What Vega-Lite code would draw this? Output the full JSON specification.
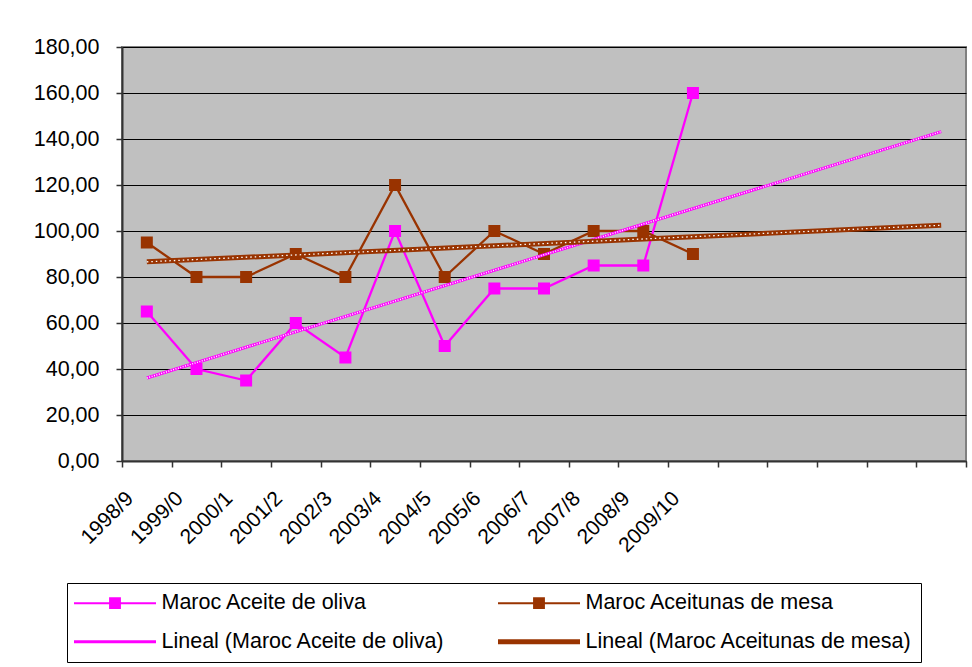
{
  "$schema": "https://vega.github.io/schema/vega-lite/v6.json",
  "width": 844,
  "height": 414,
  "autosize": "none",
  "padding": {"left": 122, "top": 47, "right": 6, "bottom": 206},
  "background": "white",
  "config": {
    "font": "Liberation Sans",
    "view": {"fill": "#C0C0C0", "stroke": "#808080", "strokeWidth": 2},
    "axis": {"labelFont": "Liberation Sans", "labelFontSize": 21.5, "labelColor": "#000"}
  },
  "datasets": {
    "obs": [
      {"period": "1998/9", "idx": 1, "series": "Maroc Aceite de oliva", "value": 65},
      {"period": "1999/0", "idx": 2, "series": "Maroc Aceite de oliva", "value": 40},
      {"period": "2000/1", "idx": 3, "series": "Maroc Aceite de oliva", "value": 35},
      {"period": "2001/2", "idx": 4, "series": "Maroc Aceite de oliva", "value": 60},
      {"period": "2002/3", "idx": 5, "series": "Maroc Aceite de oliva", "value": 45},
      {"period": "2003/4", "idx": 6, "series": "Maroc Aceite de oliva", "value": 100},
      {"period": "2004/5", "idx": 7, "series": "Maroc Aceite de oliva", "value": 50},
      {"period": "2005/6", "idx": 8, "series": "Maroc Aceite de oliva", "value": 75},
      {"period": "2006/7", "idx": 9, "series": "Maroc Aceite de oliva", "value": 75},
      {"period": "2007/8", "idx": 10, "series": "Maroc Aceite de oliva", "value": 85},
      {"period": "2008/9", "idx": 11, "series": "Maroc Aceite de oliva", "value": 85},
      {"period": "2009/10", "idx": 12, "series": "Maroc Aceite de oliva", "value": 160},
      {"period": "1998/9", "idx": 1, "series": "Maroc Aceitunas de mesa", "value": 95},
      {"period": "1999/0", "idx": 2, "series": "Maroc Aceitunas de mesa", "value": 80},
      {"period": "2000/1", "idx": 3, "series": "Maroc Aceitunas de mesa", "value": 80},
      {"period": "2001/2", "idx": 4, "series": "Maroc Aceitunas de mesa", "value": 90},
      {"period": "2002/3", "idx": 5, "series": "Maroc Aceitunas de mesa", "value": 80},
      {"period": "2003/4", "idx": 6, "series": "Maroc Aceitunas de mesa", "value": 120},
      {"period": "2004/5", "idx": 7, "series": "Maroc Aceitunas de mesa", "value": 80},
      {"period": "2005/6", "idx": 8, "series": "Maroc Aceitunas de mesa", "value": 100},
      {"period": "2006/7", "idx": 9, "series": "Maroc Aceitunas de mesa", "value": 90},
      {"period": "2007/8", "idx": 10, "series": "Maroc Aceitunas de mesa", "value": 100},
      {"period": "2008/9", "idx": 11, "series": "Maroc Aceitunas de mesa", "value": 100},
      {"period": "2009/10", "idx": 12, "series": "Maroc Aceitunas de mesa", "value": 90}
    ],
    "trend": [
      {"idx": 1, "series": "Lineal (Maroc Aceite de oliva)", "value": 36.1},
      {"idx": 17, "series": "Lineal (Maroc Aceite de oliva)", "value": 143.2},
      {"idx": 1, "series": "Lineal (Maroc Aceitunas de mesa)", "value": 86.6},
      {"idx": 17, "series": "Lineal (Maroc Aceitunas de mesa)", "value": 102.5}
    ]
  },
  "encoding": {
    "x": {
      "field": "idx", "type": "quantitative",
      "scale": {"domain": [0.5, 17.5], "nice": false, "zero": false},
      "axis": {
        "title": null, "grid": false,
        "values": [0.5,1,1.5,2,2.5,3,3.5,4,4.5,5,5.5,6,6.5,7,7.5,8,8.5,9,9.5,10,10.5,11,11.5,12,12.5,13,13.5,14,14.5,15,15.5,16,16.5,17,17.5],
        "labelExpr": "datum.value % 1 == 0 && datum.value <= 12 ? ['1998/9','1999/0','2000/1','2001/2','2002/3','2003/4','2004/5','2005/6','2006/7','2007/8','2008/9','2009/10'][datum.value - 1] : ''",
        "labelAngle": -45, "labelAlign": "right", "labelBaseline": "middle", "labelFontSize": 21,
        "labelPadding": 28, "labelOffset": -17, "labelOverlap": false, "labelBound": false, "labelFlush": false,
        "tickSize": 6, "tickColor": "#333", "tickWidth": 1.5,
        "tickOpacity": {"condition": {"test": "datum.value % 1 == 0", "value": 0}, "value": 1},
        "domainColor": "#333", "domainWidth": 2
      }
    },
    "y": {
      "field": "value", "type": "quantitative",
      "scale": {"domain": [0, 180], "nice": false},
      "axis": {
        "title": null, "values": [0,20,40,60,80,100,120,140,160,180],
        "labelExpr": "replace(format(datum.value, '.2f'), '.', ',')",
        "gridColor": "#000", "gridWidth": 1.2,
        "tickSize": 6, "tickColor": "#333", "tickWidth": 1.5,
        "labelPadding": 17,
        "domainColor": "#333", "domainWidth": 2
      }
    },
    "color": {
      "field": "series", "type": "nominal",
      "scale": {
        "domain": ["Maroc Aceite de oliva", "Lineal (Maroc Aceite de oliva)", "Maroc Aceitunas de mesa", "Lineal (Maroc Aceitunas de mesa)"],
        "range": ["#FF00FF", "#FF00FF", "#993300", "#993300"]
      },
      "legend": null
    }
  },
  "layer": [
    {
      "data": {"name": "obs"},
      "mark": {"type": "line", "strokeWidth": 2.3},
      "encoding": {
        "color": {
          "field": "series", "type": "nominal",
          "legend": {
            "title": null, "orient": "none", "legendX": -55, "legendY": 536,
            "columns": 2, "columnPadding": 43, "rowPadding": 16, "padding": 9,
            "strokeColor": "#000", "fillColor": "#fff",
            "labelFont": "Liberation Sans", "labelFontSize": 21.5, "labelColor": "#000", "labelLimit": 0, "labelOffset": 64,
            "symbolSize": 6724,
            "encode": {
              "symbols": {
                "update": {
                  "x": {"value": 39},
                  "shape": {"signal": "indexof(['Maroc Aceite de oliva','Maroc Aceitunas de mesa'], datum.value) >= 0 ? 'M-1,0H1M-0.12,-0.12H0.12V0.12H-0.12Z' : 'M-1,0H1'"},
                  "fill": {"signal": "datum.value == 'Maroc Aceite de oliva' ? '#FF00FF' : datum.value == 'Maroc Aceitunas de mesa' ? '#993300' : 'transparent'"},
                  "stroke": {"signal": "datum.value == 'Lineal (Maroc Aceite de oliva)' ? '#FF77FF' : datum.value == 'Lineal (Maroc Aceitunas de mesa)' ? '#A8552E' : datum.value == 'Maroc Aceite de oliva' ? '#FF00FF' : '#993300'"},
                  "strokeWidth": {"signal": "datum.value == 'Lineal (Maroc Aceitunas de mesa)' ? 5 : datum.value == 'Lineal (Maroc Aceite de oliva)' ? 3 : 2"},
                  "size": {"value": 6724},
                  "opacity": {"value": 1}
                }
              }
            }
          }
        }
      }
    },
    {
      "data": {"name": "obs"},
      "mark": {"type": "point", "shape": "square", "filled": true, "size": 144, "opacity": 1},
      "encoding": {"detail": {"field": "series"}}
    },
    {
      "data": {"name": "trend"},
      "transform": [{"filter": "datum.series == 'Lineal (Maroc Aceite de oliva)'"}],
      "mark": {"type": "line", "strokeWidth": 3}
    },
    {
      "data": {"name": "trend"},
      "transform": [{"filter": "datum.series == 'Lineal (Maroc Aceite de oliva)'"}],
      "mark": {"type": "line", "strokeWidth": 1.5, "strokeDash": [1, 1.5]},
      "encoding": {"color": {"value": "#FFFFFF"}}
    },
    {
      "data": {"name": "trend"},
      "transform": [{"filter": "datum.series == 'Lineal (Maroc Aceitunas de mesa)'"}],
      "mark": {"type": "line", "strokeWidth": 5}
    },
    {
      "data": {"name": "trend"},
      "transform": [{"filter": "datum.series == 'Lineal (Maroc Aceitunas de mesa)'"}],
      "mark": {"type": "line", "strokeWidth": 1.3, "strokeDash": [1.5, 3]},
      "encoding": {"color": {"value": "#FFFFFF"}}
    }
  ]
}
